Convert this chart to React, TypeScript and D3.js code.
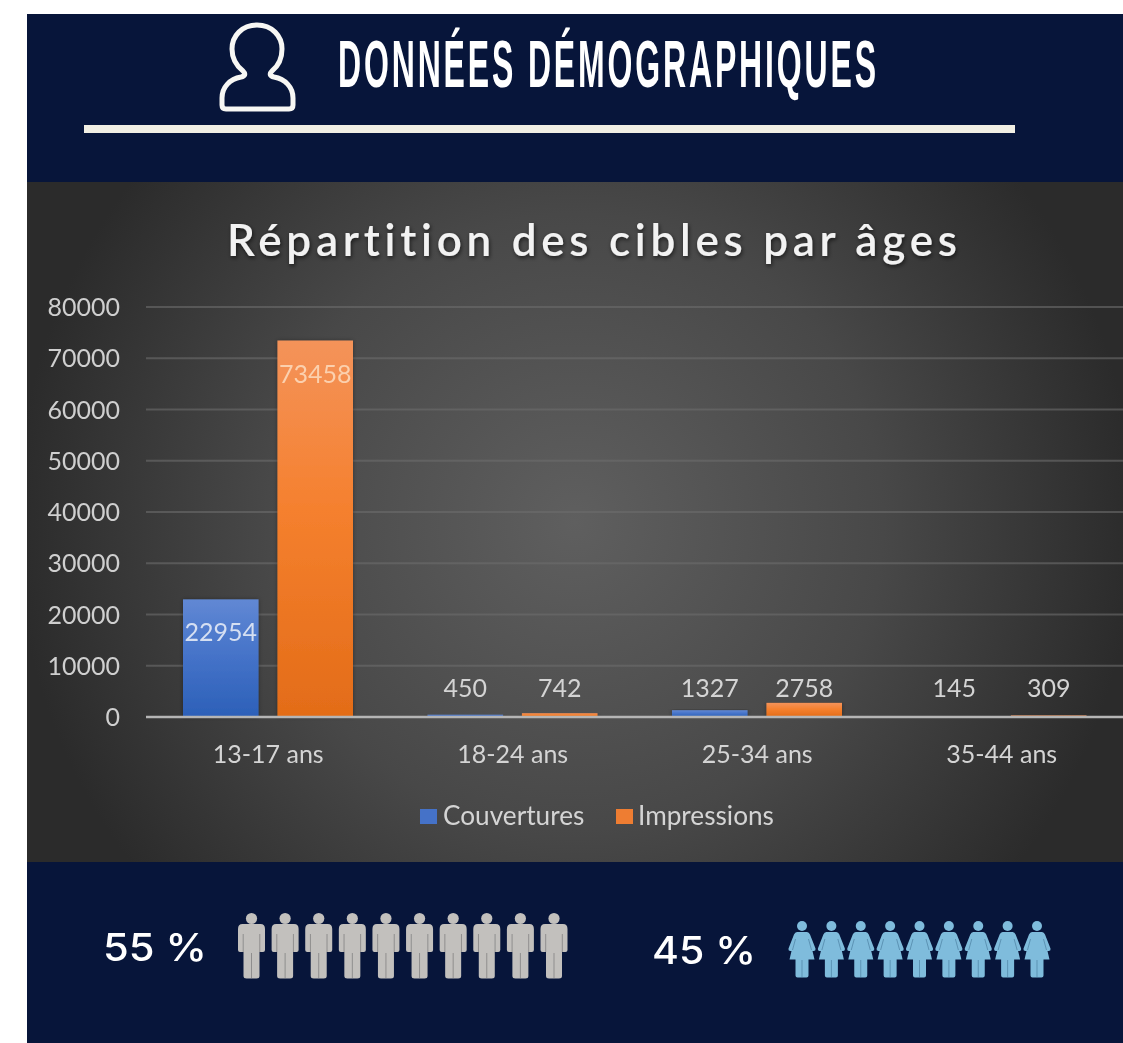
import React, { useLayoutEffect, useRef } from "react";
import * as d3 from "d3";

const categories = ["13-17 ans", "18-24 ans", "25-34 ans", "35-44 ans"];
const couvertures = [22954, 450, 1327, 145];
const impressions = [73458, 742, 2758, 309];
const seriesNames = ["Couvertures", "Impressions"];
const yTicks = [0, 10000, 20000, 30000, 40000, 50000, 60000, 70000, 80000];
const menCount = 10;
const womenCount = 9;
const menLabel = "55 %";
const womenLabel = "45 %";
const headerTitle = "DONNÉES DÉMOGRAPHIQUES";
const chartTitle = "Répartition des cibles par âges";

const FONT = "Lato, 'Open Sans', sans-serif";
const NAVY = "#07153a";
const LABEL = 25;

const y = d3.scaleLinear().domain([0, 80000]).range([717, 307]);
const x0 = d3.scaleBand<string>().domain(categories).range([146, 1124]);
const x1 = d3.scaleBand<string>().domain(seriesNames).range([37, 207]).paddingInner(0.2);
const men = d3.scaleLinear().domain([0, menCount - 1]).range([251.5, 554]);
const women = d3.scaleLinear().domain([0, womenCount - 1]).range([802, 1037]);

const manPath =
  "M-9,-22 Q-13.5,-22 -13.5,-17 L-13.5,4 Q-13.5,6 -11.5,6 L-8,6 L-8,30 Q-8,32.5 -5,32.5 L5,32.5 Q8,32.5 8,30 L8,6 L11.5,6 Q13.5,6 13.5,4 L13.5,-17 Q13.5,-22 9,-22 Z";
const manLines = "M-8.3,-12 L-8.3,6 M8.3,-12 L8.3,6 M0,7 L0,32";
const womanPath =
  "M-5,-15 Q-7,-15 -8,-12.5 L-13.5,1.5 Q-14,3.5 -12,4 L-10.5,4 L-12.5,12.5 L-6.5,12.5 L-6.5,28.5 Q-6.5,30.5 -4.5,30.5 L4.5,30.5 Q6.5,30.5 6.5,28.5 L6.5,12.5 L12.5,12.5 L10.5,4 L12,4 Q14,3.5 13.5,1.5 L8,-12.5 Q7,-15 5,-15 Z";
const womanLines = "M-6.5,-8 L-9.5,3 M6.5,-8 L9.5,3 M0,13 L0,30";

function HeaderTitle() {
  const ref = useRef<SVGTextElement>(null);
  useLayoutEffect(() => {
    const el = ref.current;
    if (!el) return;
    const natural = el.getComputedTextLength();
    el.setAttribute("transform", `translate(338,87) scale(${541 / natural},1)`);
  }, []);
  return (
    <text
      ref={ref}
      fontFamily="'Liberation Sans', sans-serif"
      fontWeight={700}
      fontSize={67}
      letterSpacing={6}
      fill="#ffffff"
      filter="url(#soft)"
    >
      {headerTitle}
    </text>
  );
}

export default function App() {
  return (
    <svg
      width={1123}
      height={1043}
      viewBox="0 0 1123 1043"
      style={{ position: "absolute", left: 0, top: 0, display: "block" }}
    >
      <defs>
        <radialGradient id="panelBg" gradientUnits="userSpaceOnUse" cx={575} cy={522} r={560}>
          <stop offset="0" stopColor="#5f5f5f" />
          <stop offset="0.55" stopColor="#484848" />
          <stop offset="1" stopColor="#2b2b2b" />
        </radialGradient>
        <linearGradient id="blueBar" x1="0" y1="0" x2="0" y2="1">
          <stop offset="0" stopColor="#6188d4" />
          <stop offset="0.5" stopColor="#4472c8" />
          <stop offset="1" stopColor="#2c60b8" />
        </linearGradient>
        <linearGradient id="orangeBar" x1="0" y1="0" x2="0" y2="1">
          <stop offset="0" stopColor="#f4935a" />
          <stop offset="0.45" stopColor="#f5802e" />
          <stop offset="1" stopColor="#e36c18" />
        </linearGradient>
        <filter id="soft" x="-5%" y="-5%" width="110%" height="110%">
          <feGaussianBlur stdDeviation="0.6" />
        </filter>
        <filter id="titleShadow" x="-5%" y="-30%" width="110%" height="160%">
          <feDropShadow dx="1" dy="2" stdDeviation="2" floodColor="#000" floodOpacity="0.6" />
        </filter>
        <filter id="barShadow" x="-15%" y="-5%" width="130%" height="110%">
          <feDropShadow dx="0" dy="0" stdDeviation="2" floodColor="#000" floodOpacity="0.35" />
        </filter>
      </defs>

      <rect x={27} y={14} width={1096} height={1029} fill={NAVY} />
      <rect x={27} y={182} width={1096} height={680} fill="url(#panelBg)" />

      {/* header */}
      <g fill="none" stroke="#f7f7f4" strokeWidth={5} filter="url(#soft)">
        <path d="M257,25 C242,25 232,36 232,49 C232,60 238,67 243,71 C246,74 245,76 241,77 C230,79 222,87 222,98 L222,105 Q222,109 226,109 L289,109 Q293,109 293,105 L293,98 C293,87 285,79 274,77 C270,76 269,74 272,71 C277,67 282,60 282,49 C282,36 272,25 257,25 Z" />
      </g>
      <HeaderTitle />
      <rect x={84} y={125} width={931} height={8} fill="#f1efe4" />

      {/* chart */}
      <text
        x={592}
        y={256}
        textAnchor="middle"
        fontFamily={FONT}
        fontWeight={600}
        fontSize={44}
        fill="#f2f2f2"
        textLength={730}
        style={{ fontVariantLigatures: "none" }}
        filter="url(#titleShadow)"
      >
        {chartTitle}
      </text>

      <g filter="url(#soft)">
        {yTicks.filter((t) => t > 0).map((t) => (
          <line key={t} x1={146} x2={1123} y1={y(t)} y2={y(t)} stroke="#6d6d6d" strokeOpacity={0.6} strokeWidth={2} />
        ))}
        {yTicks.map((t) => (
          <text key={t} x={120} y={y(t) + 9} textAnchor="end" fontFamily={FONT} fontSize={LABEL} fill="#cfcfcf">
            {t}
          </text>
        ))}

        {categories.map((c, i) => {
          const bx = x0(c)!;
          const vals = [couvertures[i], impressions[i]];
          return (
            <g key={c}>
              {vals.map((v, s) => {
                const name = seriesNames[s];
                const left = bx + x1(name)!;
                const w = x1.bandwidth();
                const inside = v > 10000;
                return (
                  <g key={name}>
                    <rect
                      x={left}
                      y={y(v)}
                      width={w}
                      height={y(0) - y(v)}
                      fill={`url(#${s === 0 ? "blueBar" : "orangeBar"})`}
                      filter="url(#barShadow)"
                    />
                    <text
                      x={left + w / 2}
                      y={inside ? y(v) + 42 : 697}
                      textAnchor="middle"
                      fontFamily={FONT}
                      fontSize={LABEL}
                      fill={inside ? (s === 0 ? "#d5dff2" : "#fbd0ae") : "#d4d4d4"}
                    >
                      {v}
                    </text>
                  </g>
                );
              })}
              <text
                x={bx + x0.bandwidth() / 2}
                y={763}
                textAnchor="middle"
                fontFamily={FONT}
                fontSize={LABEL}
                fill="#d4d4d4"
              >
                {c}
              </text>
            </g>
          );
        })}
        <line x1={146} x2={1123} y1={y(0)} y2={y(0)} stroke="#b5b5b5" strokeWidth={2.5} />

        {seriesNames.map((n, i) => (
          <g key={n}>
            <rect x={i === 0 ? 420 : 616} y={809} width={17} height={15} fill={i === 0 ? "#4472c8" : "#ee7d31"} />
            <text x={i === 0 ? 443 : 638} y={825} fontFamily={FONT} fontSize={26.2} fill="#d4d4d4">
              {n}
            </text>
          </g>
        ))}
      </g>

      {/* bottom */}
      <g filter="url(#soft)">
        <text x={103} y={961} fontFamily="Inter, 'Open Sans', sans-serif" fontWeight={500} fontSize={38} fill="#ffffff" textLength={104} lengthAdjust="spacingAndGlyphs">
          {menLabel}
        </text>
        <text x={652} y={964} fontFamily="Inter, 'Open Sans', sans-serif" fontWeight={500} fontSize={38} fill="#ffffff" textLength={104} lengthAdjust="spacingAndGlyphs">
          {womenLabel}
        </text>
        {d3.range(menCount).map((i) => (
          <g key={i} transform={`translate(${men(i)},946)`}>
            <circle cx={0} cy={-27.5} r={5.6} fill="#c2c0bd" />
            <path d={manPath} fill="#c2c0bd" />
            <path d={manLines} fill="none" stroke="#8f8e8e" strokeWidth={1} />
          </g>
        ))}
        {d3.range(womenCount).map((i) => (
          <g key={i} transform={`translate(${women(i)},947)`}>
            <circle cx={0} cy={-21} r={5} fill="#7fbcdc" />
            <path d={womanPath} fill="#7fbcdc" />
            <path d={womanLines} fill="none" stroke="#5c93b4" strokeWidth={1} />
          </g>
        ))}
      </g>
    </svg>
  );
}
